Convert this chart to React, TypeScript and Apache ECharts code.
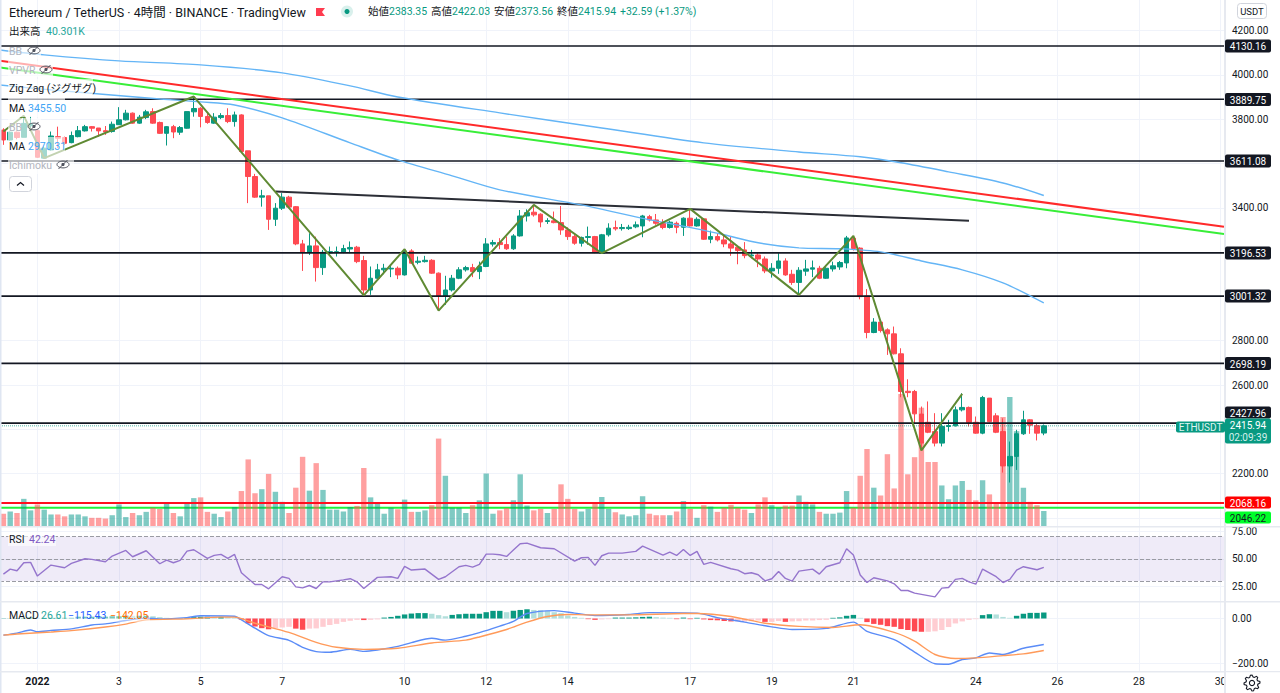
import React, { useEffect, useRef } from "react";
import * as echarts from "echarts";

// [open, close, low, high] for every 4-hour bar
const candles: number[][] = [
[3751,3706,3684,3759],[3706,3741,3703,3744],[3741,3717,3709,3744],[3718,3781,3718,3811],[3770,3779,3759,3811],
[3748,3628,3625,3754],[3624,3669,3622,3676],[3661,3724,3658,3744],[3721,3714,3669,3766],[3717,3691,3684,3721],
[3694,3726,3691,3744],[3721,3748,3718,3769],[3747,3766,3744,3774],[3766,3759,3744,3769],[3760,3747,3721,3760],
[3748,3742,3729,3769],[3744,3777,3739,3789],[3775,3797,3774,3854],[3797,3827,3794,3842],[3827,3782,3779,3830],
[3782,3809,3779,3819],[3807,3833,3800,3842],[3834,3782,3779,3849],[3785,3736,3733,3789],[3736,3766,3681,3769],
[3766,3742,3714,3774],[3741,3762,3729,3769],[3759,3834,3757,3834],[3833,3848,3811,3902],[3849,3812,3763,3854],
[3812,3785,3779,3827],[3782,3809,3779,3827],[3807,3816,3800,3827],[3816,3789,3782,3849],[3789,3819,3766,3834],
[3819,3654,3651,3822],[3657,3541,3421,3657],[3541,3448,3445,3553],[3448,3454,3405,3481],[3454,3348,3300,3454],
[3348,3398,3318,3421],[3398,3448,3390,3466],[3448,3403,3398,3454],[3405,3237,3231,3408],[3237,3199,3115,3255],
[3199,3228,3187,3285],[3228,3130,3067,3270],[3130,3199,3097,3210],[3196,3202,3183,3225],[3198,3202,3180,3225],
[3199,3216,3195,3233],[3214,3221,3195,3248],[3222,3157,3150,3228],[3162,3029,3005,3183],[3029,3082,3007,3135],
[3082,3120,3075,3147],[3120,3127,3100,3147],[3124,3127,3087,3142],[3127,3097,3078,3135],[3097,3205,3094,3213],
[3205,3150,3147,3213],[3154,3159,3145,3180],[3157,3163,3153,3183],[3163,3105,3102,3168],[3105,3002,2936,3108],
[3002,3029,2962,3093],[3029,3082,3022,3097],[3082,3120,3078,3132],[3120,3130,3112,3138],[3130,3112,3087,3147],
[3112,3135,3078,3157],[3135,3237,3132,3263],[3236,3243,3225,3255],[3243,3234,3213,3263],[3234,3215,3210,3270],
[3215,3273,3210,3281],[3273,3363,3270,3390],[3363,3378,3338,3393],[3380,3368,3360,3413],[3371,3336,3312,3375],
[3338,3342,3327,3353],[3341,3333,3330,3383],[3333,3300,3278,3408],[3300,3270,3255,3312],[3270,3240,3233,3278],
[3240,3266,3225,3270],[3266,3270,3233,3315],[3270,3198,3195,3273],[3195,3278,3192,3282],[3278,3308,3270,3330],
[3311,3305,3297,3342],[3306,3311,3297,3327],[3306,3312,3300,3323],[3314,3323,3308,3338],[3318,3363,3267,3368],
[3360,3345,3338,3368],[3345,3330,3323,3372],[3330,3311,3303,3348],[3311,3335,3306,3342],[3330,3312,3285,3338],
[3312,3353,3273,3357],[3353,3318,3315,3395],[3318,3348,3315,3357],[3350,3258,3255,3353],[3258,3270,3240,3297],
[3270,3255,3248,3285],[3255,3237,3222,3278],[3237,3218,3183,3270],[3222,3207,3145,3225],[3210,3184,3172,3245],
[3183,3187,3172,3210],[3187,3169,3132,3195],[3169,3115,3105,3180],[3115,3127,3085,3150],[3127,3160,3102,3195],
[3160,3097,3093,3172],[3100,3063,3052,3120],[3063,3118,3007,3132],[3114,3124,3093,3165],[3123,3129,3087,3162],
[3127,3082,3078,3138],[3082,3127,3079,3132],[3124,3138,3112,3157],[3133,3153,3120,3160],[3151,3264,3127,3273],
[3263,3216,3207,3273],[3218,2999,2987,3222],[3002,2837,2811,3033],[2837,2884,2834,2902],[2884,2846,2837,2887],
[2849,2831,2736,2856],[2831,2741,2738,2864],[2741,2571,2545,2766],[2572,2566,2545,2626],[2571,2470,2428,2578],
[2469,2338,2305,2503],[2432,2387,2383,2526],[2390,2338,2323,2473],[2338,2413,2323,2473],[2413,2417,2390,2443],
[2416,2488,2413,2503],[2488,2499,2481,2563],[2499,2431,2413,2503],[2432,2383,2380,2458],[2383,2544,2378,2551],
[2541,2435,2431,2541],[2461,2387,2383,2473],[2390,2235,2205,2450],[2235,2278,2160,2345],[2278,2380,2217,2398],
[2380,2443,2375,2484],[2443,2419,2380,2446],[2417,2383,2350,2428],[2383.35,2415.94,2373.56,2422.03],
];

// volume in thousands
const volumes: number[] = [
33,39,35,73,42,58,44,31,31,26,31,31,26,22,22,20,29,58,24,35,29,38,49,46,62,35,26,60,75,77,38,33,24,39,51,94,179,88,99,140,
92,65,35,103,186,95,169,97,44,44,39,51,54,156,77,62,33,49,45,71,38,38,42,56,235,135,49,49,35,56,69,141,33,42,48,69,139,55,42,46,
35,46,112,73,46,39,46,64,78,46,37,31,26,29,80,33,29,29,29,39,67,46,22,56,52,38,49,57,49,44,35,58,77,56,49,55,55,82,65,58,
38,33,33,36,94,49,135,207,103,82,193,101,355,139,185,318,172,172,109,72,109,121,97,69,123,85,60,293,347,255,103,65,56,40.301,
];

const macdHist: number[] = [
1,1,2,3,5,3,3,3,3,3,3,8,8,8,8,8,10,10,13,12,12,12,10,6,3,1,1,3,6,8,8,7,7,6,3,-5,-22,-35,-43,-48,
-43,-40,-37,-45,-50,-45,-44,-37,-29,-24,-15,-10,-6,-7,-6,-4,4,7,12,18,22,24,24,21,15,10,16,19,21,21,21,28,34,34,28,34,38,41,38,37,
34,28,24,13,7,3,-3,-6,-4,-3,4,4,4,5,7,8,6,4,3,-3,4,-3,3,-4,-7,-8,-11,-13,-13,-13,-12,-9,-15,-15,-11,-15,-13,-12,-9,-9,
-7,-6,3,5,12,16,3,-16,-24,-28,-34,-37,-47,-51,-57,-59,-59,-57,-51,-38,-22,-13,-6,-3,15,19,18,7,3,12,21,25,25,26.61,
];

const rsiPoints: number[][] = [
[0,36.2],[1,40.7],[2,39.2],[3,46.4],[4,46.7],[5,34.4],[7,44.3],[9,41.9],[10,45.8],[12,50],[13,49.4],[15,47.3],[16,52.4],[18,57.5],[19,51.8],[21,57.2],
[23,45.5],[24,48.8],[25,46.4],[26,48.5],[27,56.9],[28,58.1],[30,50.3],[31,53],[32,53.9],[33,50.3],[34,53.9],[35,37.4],[37,26.8],[38,26.8],[39,22.9],
[41,33.8],[42,32.3],[43,24.7],[44,23.8],[45,25.9],[46,23.2],[47,29.2],[48,29.2],[50,31],[51,32],[52,29.2],[53,23.2],[55,33.2],[57,33.8],[58,32.3],
[59,43.1],[60,39.8],[62,40.7],[64,31.4],[65,33.8],[67,42.8],[68,44],[69,42.5],[70,44.9],[71,54.2],[72,54.2],[73,53.6],[74,52.1],[75,57.8],[76,63.5],
[77,64.1],[79,59.9],[81,59],[84,47.9],[85,50.9],[86,51.2],[87,44],[88,52.7],[89,55.1],[91,55.1],[93,56.6],[94,61.4],[97,53.3],[98,56],[99,53],
[100,58.4],[101,53],[102,56.6],[103,44.9],[104,46.7],[107,41],[108,39.8],[109,36.5],[110,37.4],[111,35.6],[112,30.1],[113,32],[114,38.6],[115,32.3],
[116,29.8],[117,38.9],[119,40.7],[120,36.2],[121,42.8],[123,46.4],[124,59],[125,53.3],[126,35.3],[127,28.6],[128,32.9],[130,30.1],[131,27.4],[132,21.4],
[133,21.4],[134,19],[137,15.7],[138,23.5],[139,24.1],[140,31.4],[141,32.3],[142,29.2],[143,27.1],[144,40.7],[146,33.8],[147,28.6],[148,31.4],[149,39.8],
[150,42.8],[152,40.1],[153,42.24],
];

const macdLine: number[][] = [
[0,-74],[2,-65],[4,-51],[5,-59],[7,-53],[10,-46],[13,-29],[15,-24],[18,-9],[21,1.5],[23,-1.5],[27,4],[29,12],[34,10],[35,-6],[37,-43],[39,-76],[42,-97],
[44,-128],[46,-147],[48,-150],[51,-137],[53,-146],[55,-140],[58,-124],[60,-107],[63,-88],[65,-96],[68,-79],[70,-63],[73,-34],[75,-13],[77,22],[81,35],
[84,24],[87,13],[92,18],[95,26],[102,24],[105,4],[109,-16],[113,-37],[116,-49],[121,-44],[125,-16],[127,-57],[131,-94],[134,-149],[137,-201],[139,-203],
[141,-182],[143,-175],[145,-153],[147,-160],[150,-132],[153,-115.43],
];

const macdSignal: number[][] = [
[0,-74],[2,-69],[7,-60],[10,-54],[15,-38],[18,-25],[21,-6],[27,-1.5],[32,6],[34,6],[37,-21],[42,-62],[46,-106],[49,-128],[53,-137],[58,-132],[63,-109],
[68,-96],[70,-82],[74,-49],[77,-16],[80,9],[83,18],[86,16],[92,16],[100,22],[102,22],[107,9],[112,-21],[117,-35],[122,-40],[126,-28],[131,-62],[134,-101],
[137,-160],[140,-178],[143,-175],[147,-165],[150,-157],[153,-142.05],
];

const zigzag: number[][] = [
[0,3744],[3,3815],[6,3624],[28,3902],[53,3005],[59,3213],[64,2936],[78,3413],[88,3195],[101,3395],[117,3007],[125,3273],[135,2305],[141,2560],
];

const maUpper: number[][] = [
[-0.5,4112],[6,4090],[17,4063],[29,4045],[41,4009],[51,3950],[58,3900],[73,3828],[88,3760],[103,3693],[117,3652],[126,3630],[132,3603],[139,3562],[147,3512],[153,3455.5],
];
const maLower: number[][] = [
[-0.5,3954],[7,3932],[23,3891],[29,3878],[34,3864],[41,3806],[51,3693],[58,3616],[66,3544],[73,3481],[85,3413],[93,3359],[102,3305],[106,3278],[111,3242],
[117,3219],[123,3215],[129,3201],[135,3160],[141,3120],[147,3061],[153,2970.31],
];

const redTrend: number[][] = [[-0.5,4063],[179.5,3314]];
const greenTrend: number[][] = [[-0.5,4033],[179.5,3282]];
const neckline: number[][] = [[40,3473],[142,3341]];

const blackLevels: number[] = [4130.16, 3889.75, 3611.08, 3196.53, 3001.32, 2698.19, 2427.96];
const redLevel = 2068.16;
const greenLevel = 2046.22;
const lastPrice = 2415.94;

const tickBars: number[] = [5, 17, 29, 41, 59, 71, 83, 101, 113, 125, 143, 155, 167, 179];
const tickLabels: string[] = ["2022", "3", "5", "7", "10", "12", "14", "17", "19", "21", "24", "26", "28", "30"];
const hiddenPriceTicks: number[] = [3600, 3200, 3000, 2400, 2000];

const BAR_SLOTS = 180;
const UP = "#089981";
const DOWN = "#FF4A52";
const DARK = "#131722";
const FONT = '"Roboto","Noto Sans CJK JP",sans-serif';

function gearPath(): string {
  const teeth = 8;
  const pts: string[] = [];
  for (let k = 0; k < teeth * 4; k++) {
    const a = (k / (teeth * 4)) * Math.PI * 2 - Math.PI / 16;
    const r = k % 4 < 2 ? 8 : 6;
    pts.push((k === 0 ? "M" : "L") + (r * Math.cos(a)).toFixed(2) + " " + (r * Math.sin(a)).toFixed(2));
  }
  return pts.join(" ") + " Z";
}
echarts.graphic.registerShape("gear", echarts.graphic.extendPath(gearPath(), {}));

function txt(x: number, y: number, text: string, fill: string, size = 10.5, align = "left", z = 20) {
  return {
    type: "text",
    z,
    style: { x, y, text, fill, font: `${size}px ${FONT}`, align, verticalAlign: "middle" },
  };
}
function box(x: number, y: number, w: number, h: number, fill: string, z = 19, r = 0) {
  return { type: "rect", z, shape: { x, y, width: w, height: h, r }, style: { fill } };
}
function eye(cx: number, cy: number) {
  const stroke = "#50535e";
  return {
    type: "group",
    z: 20,
    children: [
      { type: "ellipse", z: 20, shape: { cx, cy, rx: 6, ry: 3.4 }, style: { fill: "none", stroke, lineWidth: 1 } },
      { type: "circle", z: 20, shape: { cx, cy, r: 1.6 }, style: { fill: stroke } },
      { type: "line", z: 20, shape: { x1: cx - 4.5, y1: cy + 4.5, x2: cx + 4.5, y2: cy - 4.5 }, style: { stroke, lineWidth: 1 } },
    ],
  };
}
function tag(y: number, h: number, label: string, fill: string, color = "#ffffff") {
  return [box(1225, y - h / 2, 46, h, fill, 21, 2), txt(1248, y + 0.5, label, color, 10, "center", 22)];
}
function plain(name: string, data: number[][], color: string, width: number, z: number, xAxisIndex: number, yAxisIndex: number, extra: any = {}) {
  return {
    name,
    type: "line",
    data,
    xAxisIndex,
    yAxisIndex,
    z,
    symbol: "none",
    showSymbol: false,
    silent: true,
    smooth: extra.smooth || false,
    lineStyle: { color, width, ...(extra.lineStyle || {}) },
    clip: extra.clip !== undefined ? extra.clip : true,
    markLine: extra.markLine,
    markArea: extra.markArea,
  };
}

function histColor(i: number): string {
  const v = macdHist[i];
  const prev = i > 0 ? macdHist[i - 1] : 0;
  if (v >= 0) return v >= prev ? "#089981" : "#B2DFDB";
  return v < prev ? "#FF4A52" : "#FFCDD2";
}

function buildOption(): any {
  const cats = Array.from({ length: BAR_SLOTS }, (_, i) => {
    const k = tickBars.indexOf(i);
    return k >= 0 ? tickLabels[k] : "";
  });
  const hiddenCat = (gridIndex: number) => ({
    type: "category", gridIndex, data: cats, show: false, boundaryGap: true,
  });
  const overlay = (gridIndex: number) => ({
    type: "value", gridIndex, min: -0.5, max: BAR_SLOTS - 0.5, show: false,
  });
  const axisLabel = { color: DARK, fontSize: 10, fontFamily: FONT, margin: 8, align: "left" };
  const gridLine = { show: true, lineStyle: { color: "#f0f3fa", width: 1 } };

  const rows: [number, number, number, number][] = [
    [51, 47, 33, 12], [70, 61, 45, 16], [88, 79, 85, 19], [108, 98, 57, 19], [127, 118, 33, 19], [146, 137, 57, 19], [165, 156, 66, 18],
  ];

  const graphic: any[] = [
    box(0, 0, 1.5, 693, "#dfe6f2", 8),
    box(1224, 0, 2, 693, "#e6e9f0", 8),
    box(0, 526, 1280, 1.5, "#e6e9f0", 8),
    box(0, 601, 1280, 1.5, "#e6e9f0", 8),
    box(0, 671, 1280, 1.5, "#e6e9f0", 8),
    box(1226, 672.5, 54, 21, "#ffffff", 9),
    ...rows.map(([, y, w, h]) => box(8, y, w, h, "rgba(255,255,255,0.62)", 18)),
    box(8, 532, 48, 14, "rgba(255,255,255,0.6)", 18),
    box(8, 608, 142, 14, "rgba(255,255,255,0.45)", 18),

    txt(9, 12, "Ethereum / TetherUS · 4時間 · BINANCE · TradingView", DARK, 12.5),
    { type: "polygon", z: 20, shape: { points: [[316, 8], [325, 8], [322, 12], [325, 16], [316, 16]] }, style: { fill: "#FF3B4F" } },
    { type: "circle", z: 20, shape: { cx: 347, cy: 11.5, r: 6 }, style: { fill: "#d9f0ec" } },
    { type: "circle", z: 20, shape: { cx: 347, cy: 11.5, r: 2.5 }, style: { fill: UP } },
    txt(368, 11, "始値", DARK), txt(389, 11, "2383.35", UP),
    txt(431, 11, "高値", DARK), txt(452, 11, "2422.03", UP),
    txt(494, 11, "安値", DARK), txt(515, 11, "2373.56", UP),
    txt(557, 11, "終値", DARK), txt(578, 11, "2415.94", UP),
    txt(620, 11, "+32.59 (+1.37%)", UP),

    txt(9, 31, "出来高", DARK), txt(46, 31, "40.301K", "#26a69a"),
    txt(9, 51, "BB", "#b2b5be"), eye(34, 50.5),
    txt(9, 70, "VPVR", "#b2b5be"), eye(46, 69.5),
    txt(9, 88, "Zig Zag (ジグザグ)", DARK),
    txt(9, 108, "MA", DARK), txt(28, 108, "3455.50", "#42a5f5"),
    txt(9, 127, "BB", "#b2b5be"), eye(34, 126.5),
    txt(9, 146, "MA", DARK), txt(28, 146, "2970.31", "#42a5f5"),
    txt(9, 165, "Ichimoku", "#b2b5be"), eye(63, 164.5),
    { type: "rect", z: 20, shape: { x: 9.5, y: 176.5, width: 22, height: 15, r: 3 }, style: { fill: "#ffffff", stroke: "#d1d4dc", lineWidth: 1 } },
    { type: "polyline", z: 21, shape: { points: [[17, 185.5], [20.5, 182.5], [24, 185.5]] }, style: { fill: "none", stroke: DARK, lineWidth: 1.2 } },

    txt(9, 539, "RSI", DARK), txt(29, 539, "42.24", "#7e57c2"),
    txt(9, 615, "MACD", DARK), txt(41, 615, "26.61", "#26a69a"), txt(68, 615, "−115.43", "#2962ff"), txt(110, 615, "−142.05", "#ff6d00"),

    { type: "rect", z: 20, shape: { x: 1237.5, y: 3.5, width: 29, height: 15, r: 3 }, style: { fill: "#ffffff", stroke: "#d1d4dc", lineWidth: 1 } },
    txt(1252, 11.5, "USDT", DARK, 9.5, "center", 21),

    ...tag(46, 13, "4130.16", DARK),
    ...tag(99.5, 13, "3889.75", DARK),
    ...tag(161, 13, "3611.08", DARK),
    ...tag(253, 13, "3196.53", DARK),
    ...tag(296, 13, "3001.32", DARK),
    ...tag(363.5, 13, "2698.19", DARK),
    ...tag(412.5, 12, "2427.96", DARK),
    box(1225, 418.5, 46, 25, UP, 21, 2),
    txt(1248, 425, "2415.94", "#ffffff", 10, "center", 22),
    txt(1248, 437, "02:09:39", "#d5f0ec", 10, "center", 22),
    box(1176, 421.5, 49, 11, UP, 21, 2),
    txt(1200.5, 427, "ETHUSDT", "#e0f5f1", 10, "center", 22),
    ...tag(502.5, 12, "2068.16", "#ff0000"),
    ...tag(517.5, 12, "2046.22", "#00ff2a", DARK),

    { type: "gear", z: 22, x: 1252, y: 683, style: { fill: "none", stroke: DARK, lineWidth: 1.1 } },
    { type: "circle", z: 22, shape: { cx: 1252, cy: 683, r: 2.6 }, style: { fill: "none", stroke: DARK, lineWidth: 1.1 } },
  ];

  return {
    animation: false,
    backgroundColor: "#ffffff",
    graphic,
    grid: [
      { left: 0, width: 1224, top: 30.5, height: 487.5 },
      { left: 0, width: 1224, top: 0, height: 526 },
      { left: 0, width: 1224, top: 531, height: 55.5 },
      { left: 0, width: 1224, top: 618.5, height: 45 },
      { left: 0, width: 1224, top: 0, height: 672 },
    ],
    xAxis: [
      hiddenCat(0),
      hiddenCat(1),
      hiddenCat(2),
      {
        type: "category", gridIndex: 3, data: cats, boundaryGap: true,
        axisLine: { show: false }, axisTick: { show: false }, splitLine: { show: false },
        axisLabel: {
          color: DARK, fontSize: 10.5, fontFamily: FONT, margin: 13,
          interval: (i: number) => tickBars.includes(i), hideOverlap: false, showMaxLabel: true,
          formatter: (v: string) => (v === "2022" ? "{year|2022}" : v),
          rich: { year: { color: DARK, fontSize: 10.5, fontFamily: FONT, fontWeight: "bold" } },
        },
      },
      overlay(0), overlay(2), overlay(3), overlay(4),
    ],
    yAxis: [
      {
        type: "value", gridIndex: 0, position: "right", min: 2000, max: 4200, interval: 200,
        axisLine: { show: false }, axisTick: { show: false }, splitLine: gridLine,
        axisLabel: { ...axisLabel, formatter: (v: number) => (hiddenPriceTicks.includes(v) ? "" : v.toFixed(2)) },
      },
      { type: "value", gridIndex: 1, min: 0, max: 1414, show: false },
      {
        type: "value", gridIndex: 2, position: "right", min: 25, max: 75, interval: 25,
        axisLine: { show: false }, axisTick: { show: false }, splitLine: gridLine,
        axisLabel: { ...axisLabel, formatter: (v: number) => v.toFixed(2) },
      },
      {
        type: "value", gridIndex: 3, position: "right", min: -200, max: 0, interval: 200,
        axisLine: { show: false }, axisTick: { show: false }, splitLine: gridLine,
        axisLabel: { ...axisLabel, formatter: (v: number) => (v < 0 ? "−" + Math.abs(v).toFixed(2) : v.toFixed(2)) },
      },
      { type: "value", gridIndex: 4, min: 0, max: 1, show: false },
    ],
    series: [
      // day grid lines through all panes
      plain("days", [[0, 0]], "#f0f3fa", 1, 0, 7, 4, {
        markLine: {
          silent: true, symbol: "none", z: 0, label: { show: false },
          lineStyle: { color: "#f0f3fa", width: 1, type: "solid" },
          data: tickBars.map((b) => ({ xAxis: b })),
        },
      }),
      plain("greenLevel", [[-0.5, greenLevel], [179.5, greenLevel]], "#22f03c", 2, 1, 4, 0),
      {
        name: "Volume", type: "bar", xAxisIndex: 1, yAxisIndex: 1, z: 2, silent: true, barWidth: 5.4,
        data: volumes.map((v, i) => ({
          value: v,
          itemStyle: { color: candles[i][1] >= candles[i][0] ? "rgba(0,150,136,0.5)" : "rgba(255,82,82,0.55)" },
        })),
      },
      {
        name: "ETHUSDT", type: "candlestick", xAxisIndex: 0, yAxisIndex: 0, z: 3, silent: true, barWidth: 5,
        data: candles,
        itemStyle: { color: UP, color0: DOWN, borderColor: UP, borderColor0: DOWN, borderWidth: 1 },
      },
      plain("redLevel", [[-0.5, redLevel], [179.5, redLevel]], "#ff0f1f", 2, 4, 4, 0),
      ...blackLevels.map((p) => plain("level" + p, [[-0.5, p], [179.5, p]], DARK, 1.7, 4, 4, 0)),
      plain("last", [[-0.5, lastPrice], [179.5, lastPrice]], UP, 1, 4, 4, 0, { lineStyle: { type: "dotted", opacity: 0.7 } }),
      plain("redTrend", redTrend, "#ff2a2a", 2, 4, 4, 0),
      plain("greenTrend", greenTrend, "#38ee38", 2, 4, 4, 0),
      plain("neckline", neckline, "#2b2e36", 2, 4, 4, 0),
      plain("MA upper", maUpper, "#64b5f6", 1.4, 4, 4, 0, { smooth: 0.3 }),
      plain("MA lower", maLower, "#64b5f6", 1.4, 4, 4, 0, { smooth: 0.3 }),
      plain("ZigZag", zigzag, "#5f8a33", 2, 5, 4, 0),
      plain("RSI", rsiPoints, "#9575cd", 1.4, 4, 5, 2, {
        clip: false,
        markArea: {
          silent: true, z: 1, itemStyle: { color: "rgba(126,87,194,0.12)" },
          data: [[{ yAxis: 30 }, { yAxis: 70 }]],
        },
        markLine: {
          silent: true, symbol: "none", z: 2, label: { show: false },
          lineStyle: { color: "#9a9ba3", width: 1, type: "dashed" },
          data: [{ yAxis: 70 }, { yAxis: 50 }, { yAxis: 30 }],
        },
      }),
      {
        name: "Histogram", type: "bar", xAxisIndex: 3, yAxisIndex: 3, z: 2, silent: true, barWidth: 5.4, clip: false,
        data: macdHist.map((v, i) => ({ value: v, itemStyle: { color: histColor(i) } })),
      },
      plain("MACD", macdLine, "#5b8cf7", 1.4, 4, 6, 3, { clip: false, smooth: 0.25 }),
      plain("Signal", macdSignal, "#ff9a5a", 1.4, 4, 6, 3, { clip: false, smooth: 0.25 }),
    ],
  };
}

export default function App() {
  const ref = useRef<HTMLDivElement>(null);
  useEffect(() => {
    if (!ref.current) return;
    const chart = echarts.init(ref.current, undefined, { renderer: "svg" });
    chart.setOption(buildOption());
    return () => chart.dispose();
  }, []);
  return <div ref={ref} style={{ position: "fixed", left: 0, top: 0, width: 1280, height: 693 }} />;
}
